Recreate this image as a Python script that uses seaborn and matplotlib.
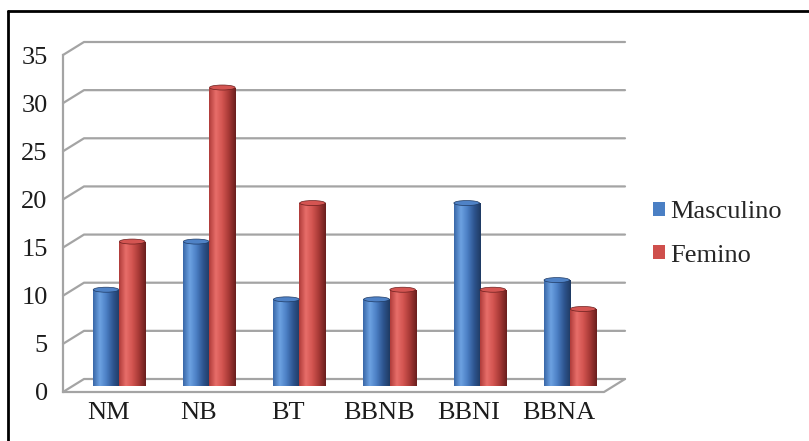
import numpy as np
import pandas as pd
import matplotlib
matplotlib.use("Agg")
import matplotlib.pyplot as plt
import matplotlib.colors as mcolors
from matplotlib.lines import Line2D
from matplotlib.patches import Ellipse, Patch
import seaborn as sns

categories = ["NM", "NB", "BT", "BBNB", "BBNI", "BBNA"]
masculino = [10, 15, 9, 9, 19, 11]
femino = [15, 31, 19, 10, 10, 8]
series_names = ["Masculino", "Femino"]
yticks = [0, 5, 10, 15, 20, 25, 30, 35]

sns.set_theme(style="white")
plt.rcParams["font.family"] = ["Liberation Serif", "DejaVu Serif"]

W, H = 809, 441
fig = plt.figure(figsize=(W / 100, H / 100), dpi=100)
fig.patch.set_facecolor("white")

# front plane of the 3D box (pixel coords)
x0, x1 = 63, 604
y0, y1 = 392, 55
ax = fig.add_axes([x0 / W, (H - y0) / H, (x1 - x0) / W, (y0 - y1) / H])
ax.set_xlim(-0.5, len(categories) - 0.5)
ax.set_ylim(0, 35)
ax.patch.set_alpha(0)

# depth offset of the back wall and of the bars
DX, DY = 21, 13
BX, BY = 11, 6

grid_col = "#a4a4a4"
text_col = "#1c1c1c"
px_per_y = (y0 - y1) / 35.0


def to_fig(px, py):
    return px / W, (H - py) / H


# back wall gridlines with diagonal connectors
for v in yticks:
    py = y0 - v * px_per_y
    pts = [(x0, py), (x0 + DX, py - DY), (x1 + DX, py - DY)]
    xs, ys = zip(*[to_fig(*p) for p in pts])
    fig.add_artist(Line2D(xs, ys, color=grid_col, lw=1.6, zorder=0))

# floor front edge and right diagonal
pts = [(x0, y0), (x1, y0), (x1 + DX, y0 - DY)]
xs, ys = zip(*[to_fig(*p) for p in pts])
fig.add_artist(Line2D(xs, ys, color=grid_col, lw=1.6, zorder=0))

# axis styling
for s in ["top", "right", "bottom"]:
    ax.spines[s].set_visible(False)
ax.spines["left"].set_color(grid_col)
ax.spines["left"].set_linewidth(1.6)
ax.set_yticks(yticks)
ax.set_yticklabels([str(v) for v in yticks], fontsize=19, color=text_col)
ax.tick_params(axis="y", direction="out", length=6, width=1.6, color=grid_col, pad=5)
ax.set_xticks(np.arange(len(categories)))
ax.set_xticklabels(categories, fontsize=19, color=text_col)
ax.tick_params(axis="x", length=0, pad=7)
ax.set_xticks(np.arange(len(categories) + 1) - 0.5, minor=True)
ax.tick_params(axis="x", which="minor", direction="out", length=8, width=1.6, color=grid_col)
ax.grid(False)

# bars sit half way into the depth of the box
ax2 = fig.add_axes([(x0 + BX) / W, (H - y0 + BY) / H, (x1 - x0) / W, (y0 - y1) / H])
df = pd.DataFrame({
    "cat": categories * 2,
    "val": masculino + femino,
    "serie": [series_names[0]] * len(categories) + [series_names[1]] * len(categories),
})
palette = {"Masculino": "#4a7fc4", "Femino": "#cf4f4c"}
sns.barplot(data=df, x="cat", y="val", hue="serie", order=categories,
            hue_order=series_names, palette=palette, width=0.58, gap=0,
            ax=ax2, legend=False, saturation=1)
ax2.axis("off")
ax2.patch.set_alpha(0)

stops = {
    "Masculino": ["#3a68a8", "#6da2e2", "#4b7fc4", "#2e5590", "#1f3a63"],
    "Femino": ["#b03c3a", "#e86e6a", "#d25450", "#a53835", "#6a1f1e"],
}
caps = {"Masculino": "#4f82c6", "Femino": "#d45552"}
n = len(categories)
for i, bar in enumerate(ax2.patches[:2 * n]):
    serie = series_names[i // n]
    cmap = mcolors.LinearSegmentedColormap.from_list(serie, stops[serie])
    grad = np.linspace(0, 1, 64).reshape(1, -1)
    bx, bw, bh = bar.get_x(), bar.get_width(), bar.get_height()
    img = ax2.imshow(grad, cmap=cmap, aspect="auto", extent=[bx, bx + bw, 0, bh],
                     zorder=3, interpolation="bilinear")
    img.set_clip_path(bar)
    bar.set_edgecolor("none")
    eh = 5.0 / px_per_y
    ax2.add_patch(Ellipse((bx + bw / 2, bh), bw * 0.98, eh, facecolor=caps[serie],
                          edgecolor=stops[serie][-1], lw=0.5, zorder=4))
    ax2.add_patch(Ellipse((bx + bw / 2, 0), bw * 0.98, eh, facecolor=stops[serie][-2],
                          edgecolor="none", zorder=2))
ax2.set_xlim(-0.5, len(categories) - 0.5)
ax2.set_ylim(0, 35)

# legend
handles = [Patch(facecolor=palette[s], edgecolor="none") for s in series_names]
fig.legend(handles, series_names, loc="center left", bbox_to_anchor=(653 / W, 1 - 234 / H),
           frameon=False, fontsize=19, handlelength=0.45, handleheight=0.45,
           handletextpad=0.2, labelspacing=0.8, borderpad=0, borderaxespad=0)

# outer frame: top and left rules
fig.add_artist(Line2D([8 / W, 8 / W], [0, 1 - 11 / H], color="black", lw=2))
fig.add_artist(Line2D([8 / W, 1], [1 - 11 / H, 1 - 11 / H], color="black", lw=2))

fig.savefig("out.png", dpi=100, facecolor="white")
